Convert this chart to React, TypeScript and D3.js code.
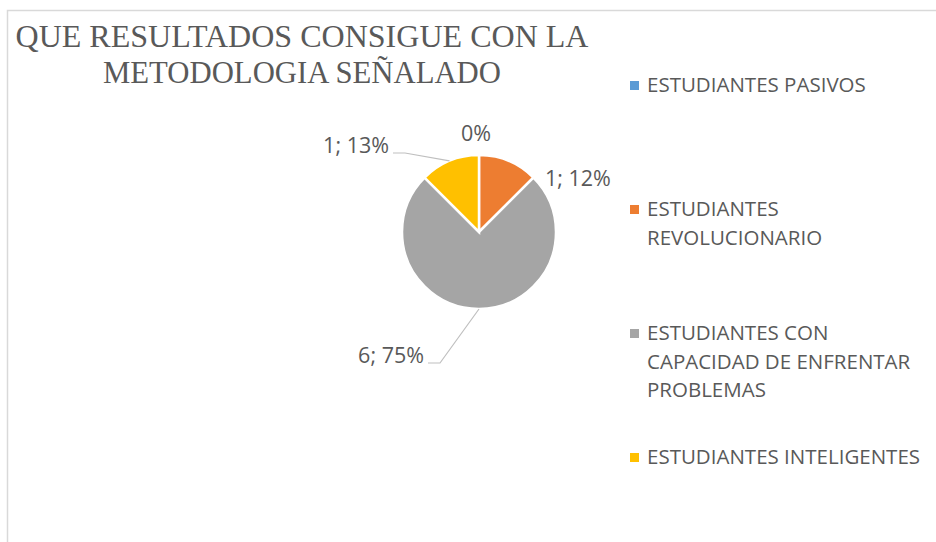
import React, { useEffect, useRef } from 'react';
import * as d3 from 'd3';

const categories = [
  'ESTUDIANTES PASIVOS',
  'ESTUDIANTES REVOLUCIONARIO',
  'ESTUDIANTES CON CAPACIDAD DE ENFRENTAR PROBLEMAS',
  'ESTUDIANTES INTELIGENTES',
];
const values = [0, 1, 6, 1];
const percents = [0, 12, 75, 13];
// legend wraps like the original
const legendLines = [
  ['ESTUDIANTES PASIVOS'],
  ['ESTUDIANTES', 'REVOLUCIONARIO'],
  ['ESTUDIANTES CON', 'CAPACIDAD DE ENFRENTAR', 'PROBLEMAS'],
  ['ESTUDIANTES INTELIGENTES'],
];
const colors = ['#5B9BD5', '#ED7D31', '#A5A5A5', '#FFC000'];
const titleLines = ['QUE RESULTADOS CONSIGUE CON LA', 'METODOLOGIA SEÑALADO'];

const W = 936;
const H = 542;
const cx = 479;
const cy = 232;
const radius = 77;
const textColor = '#595959';
const labelFont = '"Open Sans", sans-serif';

// label placement relative to the pie centre: dx, dy (baseline), anchor, leader
const labelLayout = [
  { dx: -3, dy: -91, anchor: 'middle', leader: false },
  { dx: 66, dy: -46, anchor: 'start', leader: false },
  { dx: -55, dy: 131, anchor: 'end', leader: true },
  { dx: -90, dy: -79, anchor: 'end', leader: true },
];

const App = () => {
  const ref = useRef<SVGSVGElement | null>(null);

  useEffect(() => {
    const svg = d3.select(ref.current);
    svg.selectAll('*').remove();

    svg.append('rect')
      .attr('x', 7.5).attr('y', 10.5)
      .attr('width', W + 20).attr('height', H + 20)
      .attr('fill', 'white')
      .attr('stroke', '#d9d9d9')
      .attr('stroke-width', 1.5);

    svg.append('g')
      .attr('fill', textColor)
      .attr('font-family', '"Liberation Serif", "Times New Roman", serif')
      .attr('font-size', 32)
      .attr('text-anchor', 'middle')
      .selectAll('text')
      .data(titleLines)
      .join('text')
      .attr('x', 302)
      .attr('y', (d, i) => 47 + i * 36)
      .attr('textLength', (d, i) => (i === 0 ? 573 : 398))
      .attr('lengthAdjust', 'spacingAndGlyphs')
      .text(d => d);

    const data = categories.map((name, i) => ({ name, value: values[i], pct: percents[i], i }));
    const pie = d3.pie<any>().sort(null).value(d => d.value);
    const arc = d3.arc<any>().innerRadius(0).outerRadius(radius);
    const arcs = pie(data);

    const g = svg.append('g').attr('transform', `translate(${cx},${cy})`);

    g.selectAll('path')
      .data(arcs)
      .join('path')
      .attr('d', arc)
      .attr('fill', d => colors[d.data.i])
      .attr('stroke', 'white')
      .attr('stroke-width', 2.5)
      .attr('stroke-linejoin', 'miter');

    const labels = g.append('g')
      .attr('font-family', labelFont)
      .attr('font-size', 21.5)
      .attr('fill', textColor);

    arcs.forEach(d => {
      const lay = labelLayout[d.data.i];
      const text = d.data.value === 0 ? `${d.data.pct}%` : `${d.data.value}; ${d.data.pct}%`;
      labels.append('text')
        .attr('x', lay.dx)
        .attr('y', lay.dy)
        .attr('text-anchor', lay.anchor)
        .text(text);

      if (lay.leader) {
        const mid = (d.startAngle + d.endAngle) / 2;
        const edge = [Math.sin(mid) * radius, -Math.cos(mid) * radius];
        const startX = lay.dx + 4;
        const lineY = lay.dy;
        const pts: [number, number][] = [[startX, lineY], [startX + 12, lineY], [edge[0], edge[1]]];
        labels.append('path')
          .attr('d', d3.line()(pts))
          .attr('fill', 'none')
          .attr('stroke', '#bfbfbf')
          .attr('stroke-width', 1.2);
      }
    });

    const legendY = d3.scaleLinear().domain([0, 3]).range([92, 464]);
    const legend = svg.append('g')
      .attr('font-family', labelFont)
      .attr('font-size', 20.5)
      .attr('fill', textColor);

    legendLines.forEach((lines, i) => {
      const y = legendY(i);
      legend.append('rect')
        .attr('x', 630).attr('y', y - 11)
        .attr('width', 9).attr('height', 9)
        .attr('fill', colors[i]);
      const t = legend.append('text').attr('x', 647).attr('y', y);
      lines.forEach((line, j) => {
        t.append('tspan').attr('x', 647).attr('y', y + j * 28.5).text(line);
      });
    });
  }, []);

  return (
    <svg ref={ref} width={W} height={H}
      style={{ position: 'absolute', left: 0, top: 0, background: 'white' }} />
  );
};

export default App;
